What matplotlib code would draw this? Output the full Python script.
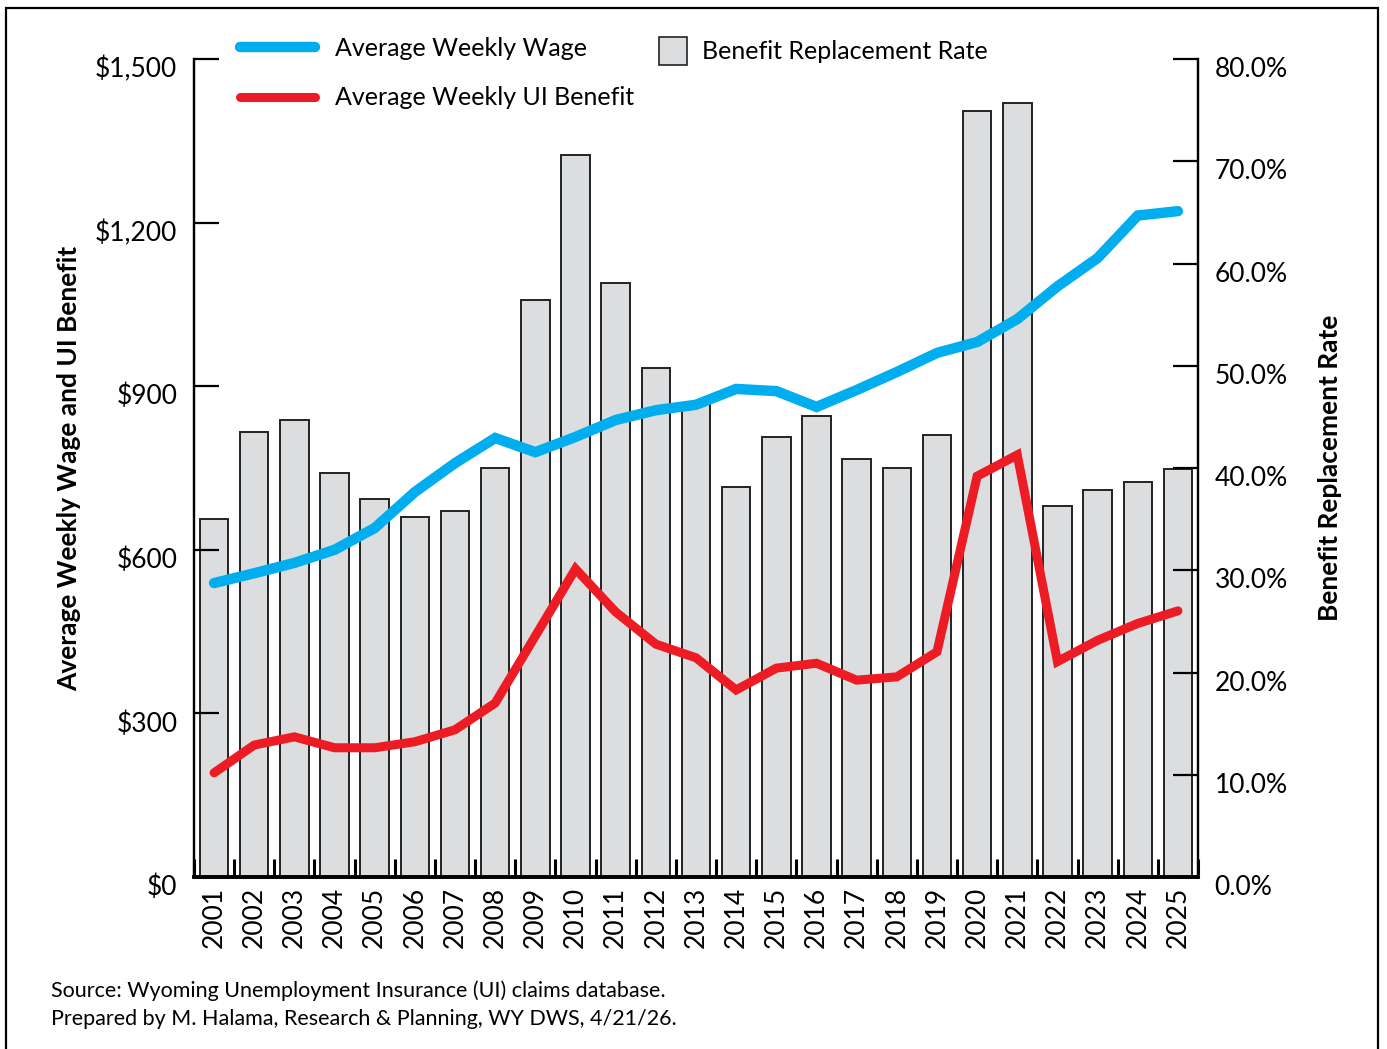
import numpy as np
import matplotlib.pyplot as plt
from matplotlib.patches import Rectangle
from matplotlib.lines import Line2D
from matplotlib.transforms import ScaledTranslation

plt.rcParams['font.family'] = ['Lato', 'DejaVu Sans']

years = [str(y) for y in range(2001, 2026)]
replacement_rate = [35.0, 43.5, 44.7, 39.5, 37.0, 35.2, 35.8, 40.0, 56.4, 70.6,
                    58.1, 49.8, 46.4, 38.1, 43.0, 45.1, 40.9, 40.0, 43.2, 74.9,
                    75.7, 36.3, 37.8, 38.6, 39.9]
avg_wage = [539, 557, 576, 600, 640, 706, 759, 805, 779, 807,
            838, 856, 866, 895, 891, 862, 893, 926, 961, 981,
            1023, 1083, 1135, 1213, 1221]
avg_benefit = [191, 242, 257, 237, 237, 248, 270, 319, 442, 565,
               486, 427, 402, 343, 383, 392, 361, 367, 413, 735,
               774, 395, 434, 465, 488]

wage_ticks = [0, 300, 600, 900, 1200, 1500]
wage_labels = ['$0', '$300', '$600', '$900', '$1,200', '$1,500']
rate_ticks = [0, 10, 20, 30, 40, 50, 60, 70, 80]
rate_labels = ['%.1f%%' % t for t in rate_ticks]

blue = '#00AEEF'
red = '#ED1C24'
bar_grey = '#DCDDDE'

fig = plt.figure(figsize=(13.87, 10.49), dpi=100)
ax = fig.add_axes([194 / 1387, 1 - 877 / 1049, (1198 - 194) / 1387, (877 - 59) / 1049])
ax2 = ax.twinx()

x = np.arange(len(years))

# bars on the right (percent) axis, lines on the left ($) axis drawn on top
ax2.bar(x, replacement_rate, width=0.71, color=bar_grey, edgecolor='#222222',
        linewidth=1.4, zorder=1)
ax2.set_ylim(0, 80)
ax.set_zorder(ax2.get_zorder() + 1)
ax.patch.set_visible(False)

ax.plot(x, avg_wage, color=blue, lw=7.5, solid_capstyle='round', solid_joinstyle='miter')
ax.plot(x, avg_benefit, color=red, lw=6.5, solid_capstyle='round', solid_joinstyle='miter')
ax.set_ylim(0, 1500)
ax.set_xlim(-0.5, len(years) - 0.5)

tick_fs = 19
ax.set_yticks(wage_ticks[1:])
ax.set_yticklabels(wage_labels[1:])
ax.set_yticks([0], minor=True)
ax.set_yticklabels(['$0'], minor=True)
ax.tick_params(axis='y', which='major', direction='in', length=18, width=1.6, pad=12,
               labelsize=tick_fs)
ax.tick_params(axis='y', which='minor', direction='in', length=0, pad=12, labelsize=tick_fs)

ax2.set_yticks(rate_ticks)
ax2.set_yticklabels(rate_labels)
ax2.tick_params(axis='y', direction='in', length=18, width=1.6, pad=12, labelsize=tick_fs)

offset = ScaledTranslation(0, -0.08, fig.dpi_scale_trans)
for lab in ax.get_yticklabels() + ax.get_yticklabels(minor=True) + ax2.get_yticklabels():
    lab.set_transform(lab.get_transform() + offset)

ax.set_xticks(x)
ax.set_xticklabels(years, rotation=90)
ax.set_xticks(np.arange(-0.5, len(years)), minor=True)
ax.tick_params(axis='x', which='major', length=0, pad=7, labelsize=tick_fs)
ax.tick_params(axis='x', which='minor', direction='in', length=13, width=2.2)
ax2.tick_params(axis='x', which='both', length=0)

for a in (ax, ax2):
    a.spines['top'].set_visible(False)
    a.spines['left'].set_linewidth(1.6)
    a.spines['right'].set_linewidth(1.6)
    a.spines['bottom'].set_linewidth(2.6)

ax.set_ylabel('Average Weekly Wage and UI Benefit', fontsize=19, fontweight='bold', labelpad=10)
ax2.set_ylabel('Benefit Replacement Rate', fontsize=19, fontweight='bold', labelpad=22)

line_handles = [Line2D([], [], color=blue, lw=7.5, solid_capstyle='round'),
                Line2D([], [], color=red, lw=6.5, solid_capstyle='round')]
leg1 = fig.legend(line_handles, ['Average Weekly Wage', 'Average Weekly UI Benefit'],
                  loc='upper left', bbox_to_anchor=(240 / 1387, 1 - 37 / 1049),
                  frameon=False, fontsize=18, handlelength=3.0, handletextpad=0.8,
                  labelspacing=1.05, borderaxespad=0, borderpad=0)
bar_handle = [Rectangle((0, 0), 1, 1, facecolor=bar_grey, edgecolor='#222222', lw=1.2)]
leg2 = fig.legend(bar_handle, ['Benefit Replacement Rate'],
                  loc='upper left', bbox_to_anchor=(659 / 1387, 1 - 37 / 1049),
                  frameon=False, fontsize=18, handlelength=1.1, handleheight=1.35,
                  handletextpad=0.6, borderaxespad=0, borderpad=0)

fig.text(51 / 1387, 1 - 991 / 1049, 'Source: Wyoming Unemployment Insurance (UI) claims database.',
         fontsize=15.5, va='center', ha='left')
fig.text(51 / 1387, 1 - 1019 / 1049, 'Prepared by M. Halama, Research & Planning, WY DWS, 4/21/26.',
         fontsize=15.5, va='center', ha='left')

fig.patches.append(Rectangle((6 / 1387, -0.01), (1378 - 6) / 1387, 1 - 8 / 1049 + 0.01,
                             transform=fig.transFigure, fill=False, edgecolor='black', lw=1.6))

fig.savefig('out.png', dpi=100)
